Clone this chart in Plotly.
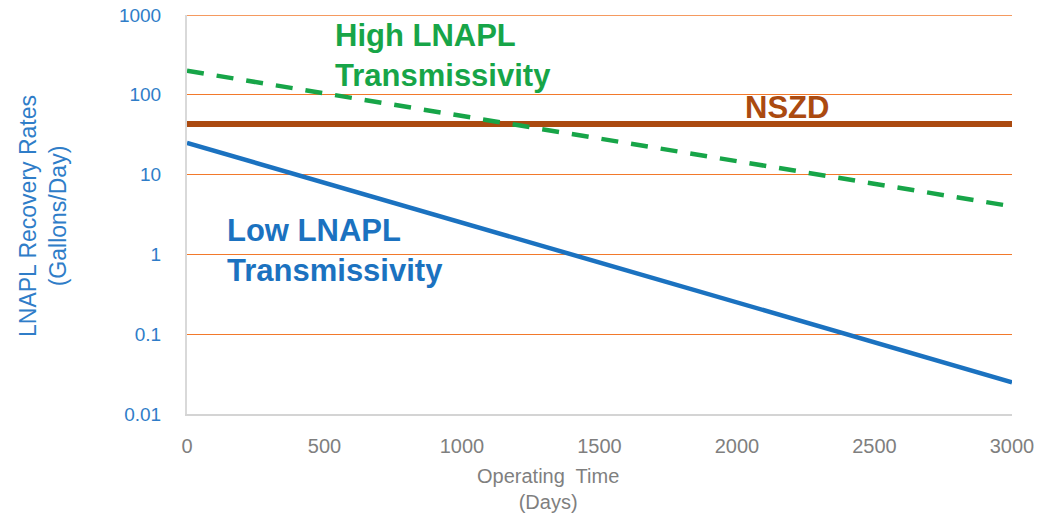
import plotly.graph_objects as go

# ---- data ----
days = [0, 500, 1000, 1500, 2000, 2500, 3000]
low_transmissivity = [25, 7.9, 2.5, 0.79, 0.25, 0.079, 0.025]
high_transmissivity = [200, 104, 54, 28, 14.7, 7.7, 4.0]
nszd_days = [0, 3000]
nszd_rate = [43, 43]

y_tick_vals = [0.01, 0.1, 1, 10, 100, 1000]
y_tick_text = ["0.01", "0.1", "1", "10", "100", "1000"]
x_tick_vals = [0, 500, 1000, 1500, 2000, 2500, 3000]

W, H = 1063, 514
L, R, T, B = 187, 51, 15, 100
pw, ph = W - L - R, H - T - B

def px(x):
    return (x - L) / pw

def py(y):
    return (H - B - y) / ph

BLUE = "#1B72C0"
BLUE_TXT = "#2F7DC8"
GREEN = "#17A548"
BROWN = "#AB4A10"
ORANGE = "#F2792B"
GREY = "#7F7F7F"
FONT = "Liberation Sans, Arial, sans-serif"

fig = go.Figure()
fig.add_trace(go.Scatter(x=nszd_days, y=nszd_rate, mode="lines",
                         line=dict(color=BROWN, width=6), hoverinfo="skip"))
fig.add_trace(go.Scatter(x=days, y=high_transmissivity, mode="lines",
                         line=dict(color=GREEN, width=4.5, dash="17px,13px"),
                         hoverinfo="skip"))
fig.add_trace(go.Scatter(x=days, y=low_transmissivity, mode="lines",
                         line=dict(color=BLUE, width=4.5), hoverinfo="skip"))

fig.update_layout(
    width=W, height=H, autosize=False,
    margin=dict(l=L, r=R, t=T, b=B, pad=0, autoexpand=False),
    paper_bgcolor="white", plot_bgcolor="white",
    showlegend=False,
    font=dict(family=FONT),
    xaxis=dict(range=[0, 3000], tickvals=x_tick_vals, automargin=False,
               showgrid=False, zeroline=False,
               showline=True, linecolor="#D4D4D4", linewidth=2,
               ticks="", tickfont=dict(size=20, color=GREY, family=FONT),
               ticklabelstandoff=13),
    yaxis=dict(type="log", range=[-2, 3], tickvals=y_tick_vals,
               ticktext=y_tick_text, automargin=False,
               showgrid=True, gridcolor=ORANGE, gridwidth=1.3,
               zeroline=False,
               showline=True, linecolor="#D9D9D9", linewidth=2,
               ticks="", tickfont=dict(size=19, color=BLUE_TXT, family=FONT),
               ticklabelstandoff=20),
)

# top gridline at the upper range edge (1000)
fig.add_shape(type="line", xref="paper", x0=0, x1=1, yref="y",
              y0=y_tick_vals[-1], y1=y_tick_vals[-1],
              line=dict(color=ORANGE, width=1.3), layer="below")

ann = []
ann.append(dict(text="High LNAPL<br>Transmissivity", x=px(333), y=py(55),
                xref="paper", yref="paper", xanchor="left", yanchor="middle",
                align="left", showarrow=False,
                font=dict(size=31, color=GREEN, family=FONT, weight="bold")))
ann.append(dict(text="NSZD", x=px(787), y=py(107), xref="paper", yref="paper",
                xanchor="center", yanchor="middle", showarrow=False,
                font=dict(size=31, color=BROWN, family=FONT, weight="bold")))
ann.append(dict(text="Low LNAPL<br>Transmissivity", x=px(225), y=py(250),
                xref="paper", yref="paper", xanchor="left", yanchor="middle",
                align="left", showarrow=False,
                font=dict(size=31, color=BLUE, family=FONT, weight="bold")))
ann.append(dict(text="LNAPL Recovery Rates<br>(Gallons/Day)", x=px(43), y=py(216),
                xref="paper", yref="paper", xanchor="center", yanchor="middle",
                textangle=-90, showarrow=False,
                font=dict(size=23, color=BLUE_TXT, family=FONT)))
ann.append(dict(text="Operating  Time<br>(Days)", x=px(548), y=py(489),
                xref="paper", yref="paper", xanchor="center", yanchor="middle",
                showarrow=False,
                font=dict(size=20, color=GREY, family=FONT)))
fig.update_layout(annotations=ann)

fig.write_html("out.html")
